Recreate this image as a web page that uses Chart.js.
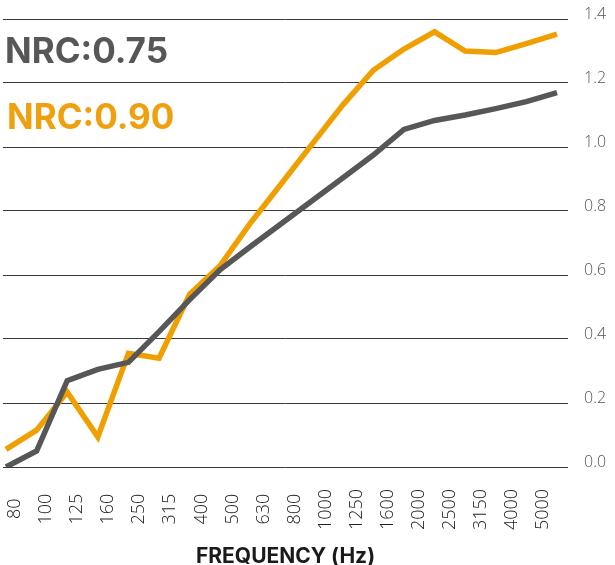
<!DOCTYPE html>
<html>
<head>
<meta charset="utf-8">
<script src="https://cdn.jsdelivr.net/npm/chart.js@4/dist/chart.umd.min.js"></script>
<style>
  html, body { margin: 0; padding: 0; background: #fff; }
  #wrap { position: relative; width: 615px; height: 565px; }
  .nrc {
    position: absolute;
    font-family: Inter, "Open Sans", sans-serif;
    font-weight: 700;
    font-size: 35px;
    line-height: 1;
    white-space: nowrap;
  }
  #nrcGrey { left: 5px; top: 33px; color: #575757; }
  #nrcOrange { left: 7px; top: 99px; color: #efa00e; }
</style>
</head>
<body>
<div id="wrap">
  <canvas id="chart" width="615" height="565"></canvas>
  <div class="nrc" id="nrcGrey">NRC:0.75</div>
  <div class="nrc" id="nrcOrange">NRC:0.90</div>
</div>
<script>
// Third-octave bands the two curves are plotted on (19 points)
const bands = ['80', '100', '125', '160', '200', '250', '315', '400', '500', '630',
  '800', '1000', '1250', '1600', '2000', '2500', '3150', '4000', '5000'];

// Labels printed under the chart (the artwork skips 200)
const tickLabels = ['80', '100', '125', '160', '250', '315', '400', '500', '630',
  '800', '1000', '1250', '1600', '2000', '2500', '3150', '4000', '5000'];

// Absorption coefficients per band
const greyValues = [0.00, 0.05, 0.27, 0.305, 0.327, 0.423, 0.523, 0.617, 0.69, 0.761,
  0.832, 0.903, 0.975, 1.055, 1.083, 1.10, 1.12, 1.142, 1.17];
const orangeValues = [0.055, 0.115, 0.234, 0.094, 0.355, 0.34, 0.54, 0.63, 0.764, 0.886,
  1.009, 1.131, 1.24, 1.306, 1.36, 1.30, 1.295, 1.323, 1.353];

const yTicks = [0, 0.2, 0.4, 0.6, 0.8, 1.0, 1.2, 1.4];

const GREY = '#575757';
const ORANGE = '#efa000';

/**
 * Turn a value array into {x, y} points on the band index scale
 */
function toPoints(values) {
  return values.map((v, i) => ({ x: i, y: v }));
}

const ctx = document.getElementById('chart');

new Chart(ctx, {
  type: 'line',
  data: {
    datasets: [
      {
        label: 'NRC:0.75',
        data: toPoints(greyValues),
        borderColor: GREY,
        borderWidth: 5.5,
        borderJoinStyle: 'miter',
        pointRadius: 0,
        tension: 0,
        xAxisID: 'x',
        yAxisID: 'y'
      },
      {
        label: 'NRC:0.90',
        data: toPoints(orangeValues),
        borderColor: ORANGE,
        borderWidth: 5.5,
        borderJoinStyle: 'miter',
        pointRadius: 0,
        tension: 0,
        xAxisID: 'x',
        yAxisID: 'y'
      }
    ]
  },
  options: {
    responsive: false,
    animation: false,
    events: [],
    layout: { padding: { left: 3, top: 19, right: 0, bottom: 0 } },
    plugins: {
      legend: { display: false },
      tooltip: { enabled: false }
    },
    scales: {
      // hidden scale the data is placed on
      x: {
        type: 'linear',
        display: false,
        min: -0.098,
        max: bands.length - 1 + 0.36
      },
      // visible frequency labels
      freq: {
        type: 'linear',
        position: 'bottom',
        min: -0.386,
        max: tickLabels.length - 1 + 0.8,
        grid: { display: false },
        border: { display: false },
        afterBuildTicks(axis) {
          axis.ticks = tickLabels.map((_, i) => ({ value: i }));
        },
        afterFit(axis) {
          axis.height = 98;
          axis.paddingLeft = 0;
          axis.paddingRight = 0;
        },
        ticks: {
          autoSkip: false,
          minRotation: 90,
          maxRotation: 90,
          padding: 14,
          color: '#222',
          font: { family: '"Open Sans", sans-serif', size: 18, weight: '300' },
          callback(value) {
            const label = tickLabels[value];
            if (label === undefined) return '';
            // pad short labels so they sit centred like the artwork
            return label + ' '.repeat(4 - label.length);
          }
        },
        title: {
          display: true,
          text: 'FREQUENCY (Hz)',
          color: '#1a1a1a',
          padding: { top: 0, bottom: -4 },
          font: { family: 'Inter, "Open Sans", sans-serif', size: 21, weight: '700' }
        }
      },
      y: {
        position: 'right',
        min: 0,
        max: 1.4,
        afterBuildTicks(axis) {
          axis.ticks = yTicks.map(v => ({ value: v }));
        },
        afterFit(axis) {
          axis.width = 47;
          // let the layout padding alone decide the plot top
          axis.paddingTop = 0;
          axis.paddingBottom = 0;
        },
        grid: { color: '#3a3a3a', lineWidth: 1, drawTicks: false },
        border: { display: false },
        ticks: {
          padding: 16,
          labelOffset: -5,
          color: '#555',
          font: { family: '"Open Sans", sans-serif', size: 16, weight: '300' },
          callback: v => Number(v).toFixed(1)
        }
      }
    }
  }
});
</script>
</body>
</html>
